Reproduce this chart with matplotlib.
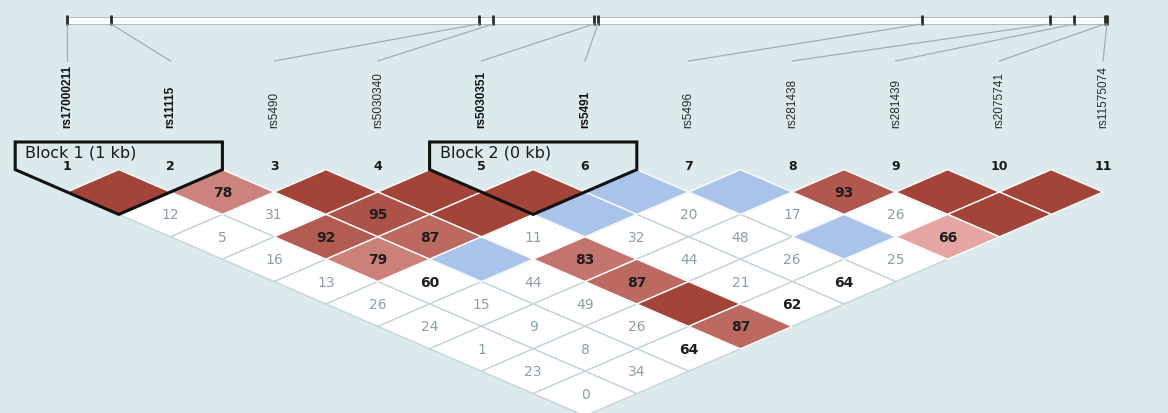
import numpy as np
import matplotlib
matplotlib.use("Agg")
import matplotlib.pyplot as plt
from matplotlib.patches import Polygon, Rectangle

# SNP markers, physical positions (kb from first marker) and haplotype blocks
snp_names = ["rs17000211", "rs11115", "rs5490", "rs5030340", "rs5030351", "rs5491",
             "rs5496", "rs281438", "rs281439", "rs2075741", "rs11575074"]
snp_pos_kb = [0.0, 1.0, 9.36, 9.68, 11.98, 12.07, 19.43, 22.34, 22.89, 23.59, 23.64]
blocks = [(1, 2), (5, 6)]

# Pairwise D' (x100), one list per marker distance (1 apart, 2 apart, ...)
dprime_rows = [
    [100, 78, 100, 100, 100, 100, 100, 93, 100, 100],
    [12, 31, 95, 100, 100, 20, 17, 26, 100],
    [5, 92, 87, 11, 32, 48, 100, 66],
    [16, 79, 100, 83, 44, 26, 25],
    [13, 60, 44, 87, 21, 64],
    [26, 15, 49, 100, 62],
    [24, 9, 26, 87],
    [1, 8, 64],
    [23, 34],
    [0],
]
# 1 where LOD >= 2
strong_rows = [
    [1, 1, 1, 1, 1, 0, 0, 1, 1, 1],
    [0, 0, 1, 1, 0, 0, 0, 0, 1],
    [0, 1, 1, 0, 0, 0, 0, 1],
    [0, 1, 0, 1, 0, 0, 0],
    [0, 0, 0, 1, 0, 0],
    [0, 0, 0, 1, 0],
    [0, 0, 0, 1],
    [0, 0, 0],
    [0, 0],
    [0],
]

# layout (pixels)
W, H = 1168, 414
X0, DX = 67, 103.6          # first marker column and spacing
Y_ROW1, DY = 193, 22.4      # centre of first diamond row and half height
MAP_X0, MAP_X1, MAP_Y = 67, 1107, 21
LABEL_BASE, LINE_END = 128, 62
BLOCK_TOP = 143

BG = "#dce9ed"
DARK_RED = np.array([163, 68, 56]) / 255
PINK = np.array([240, 182, 182]) / 255
BLUE = "#a9c3ea"


def mx(i):
    return X0 + DX * (i - 1)


def cell_color(v, strong):
    if strong:
        if v >= 100:
            return DARK_RED
        t = np.clip((v - 60) / 40, 0, 1)
        return PINK + (DARK_RED - PINK) * t
    return BLUE if v >= 100 else "white"


def is_white(v, strong):
    return not strong and v < 100


fig = plt.figure(figsize=(W / 100, H / 100), dpi=100)
fig.patch.set_facecolor(BG)
ax = fig.add_axes([0, 0, 1, 1])
ax.set_xlim(0, W)
ax.set_ylim(H, 0)
ax.axis("off")

# physical map
pos = np.array(snp_pos_kb)
px = MAP_X0 + (pos - pos[0]) / (pos[-1] - pos[0]) * (MAP_X1 - MAP_X0)
ax.add_patch(Rectangle((MAP_X0, MAP_Y - 3.5), MAP_X1 - MAP_X0, 7,
                       facecolor="white", edgecolor="#aebcc0", lw=0.7))
ax.vlines(px, MAP_Y - 5, MAP_Y + 5, color="#2a2a2a", lw=2)

in_block = set()
for a, b in blocks:
    in_block.update(range(a, b + 1))

for k, name in enumerate(snp_names):
    i = k + 1
    ax.plot([px[k], mx(i)], [MAP_Y + 4, LINE_END], color="#9ab2b6", lw=0.9)
    bold = i in in_block
    ax.text(mx(i), LABEL_BASE, name, rotation=90, ha="center", va="bottom",
            family="Liberation Sans", fontsize=8.5,
            fontweight="bold" if bold else "normal",
            color="#111111" if bold else "#2a2a2a")
    ax.text(mx(i), 167, str(i), ha="center", va="center", fontsize=9,
            fontweight="bold", color="#1a1a1a")

# LD diamonds: white ones first so coloured edges sit on top
cells = []
for d, (vals, strong) in enumerate(zip(dprime_rows, strong_rows), start=1):
    for i, (v, s) in enumerate(zip(vals, strong), start=1):
        cells.append((i, i + d, v, s))
cells.sort(key=lambda c: not is_white(c[2], c[3]))

for i, j, v, s in cells:
    cx = (mx(i) + mx(j)) / 2
    cy = Y_ROW1 + DY * (j - i - 1)
    white = is_white(v, s)
    ax.add_patch(Polygon([(cx, cy - DY), (cx + DX / 2, cy), (cx, cy + DY), (cx - DX / 2, cy)],
                         closed=True, facecolor=cell_color(v, s),
                         edgecolor="#c4d4da" if white else "white", lw=1))
    if v < 100:
        dark = v >= 60
        ax.text(cx, cy, str(v), ha="center", va="center", fontsize=10,
                fontweight="bold" if dark else "normal",
                color="#1e1e1e" if dark else "#8c9ea6")

# block outlines
for n, (a, b) in enumerate(blocks, start=1):
    left, right = mx(a) - DX / 2, mx(b) + DX / 2
    shoulder = Y_ROW1 - DY
    cx = (mx(a) + mx(b)) / 2
    bottom = Y_ROW1 + DY * (b - a)
    ax.add_patch(Polygon([(left, BLOCK_TOP), (right, BLOCK_TOP), (right, shoulder),
                          (cx, bottom), (left, shoulder)], closed=True,
                         facecolor="none", edgecolor="#111111", lw=2.2, zorder=5))
    size = int(round(snp_pos_kb[b - 1] - snp_pos_kb[a - 1]))
    ax.text(left + 10, 153, f"Block {n} ({size} kb)", ha="left", va="center",
            fontsize=11.5, color="#1a1a1a", zorder=6)

fig.savefig("out.png", dpi=100, facecolor=BG)
